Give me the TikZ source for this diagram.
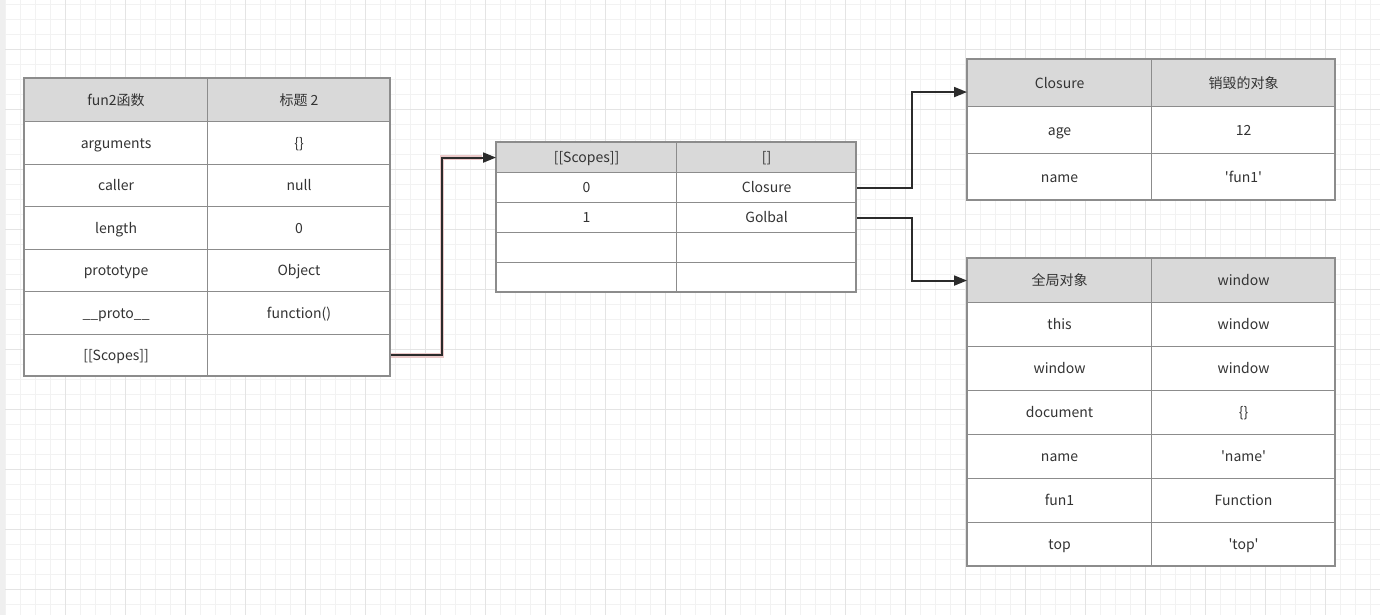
\documentclass[tikz,border=0pt]{standalone}
\usepackage{fontspec}
\setmainfont{Noto Sans CJK SC}
\usetikzlibrary{arrows.meta}
\definecolor{gridminor}{HTML}{F2F2F2}
\definecolor{gridmajor}{HTML}{E4E4E4}
\definecolor{stripgray}{HTML}{EFEFEF}
\definecolor{bordergray}{HTML}{8C8C8C}
\definecolor{headfill}{HTML}{D9D9D9}
\definecolor{txt}{HTML}{333333}
\definecolor{linkcol}{HTML}{2B2B2B}
\definecolor{halocol}{HTML}{EBC9C9}
\begin{document}
\begin{tikzpicture}[x=1pt,y=-1pt,
  cell/.style={draw=bordergray, line width=1.1pt, anchor=north west, inner sep=0pt,
    text=txt, font=\fontsize{14}{16}\selectfont, fill=white,
    text height=12pt, text depth=1.5pt},
  hcell/.style={cell, fill=headfill},
  frame/.style={draw=bordergray, line width=2pt},
  link/.style={draw=linkcol, line width=2pt, -{Triangle[length=13pt,width=10pt]}},
  halo/.style={draw=halocol, line width=4.5pt, line cap=butt}]
\useasboundingbox (0,0) rectangle (1380,615);
\fill[white] (0,0) rectangle (1380,615);
% grid
\foreach \x in {5.5,20.5,...,1380} \draw[gridminor, line width=1pt] (\x,0) -- (\x,615);
\foreach \y in {4.5,19.5,...,615} \draw[gridminor, line width=1pt] (0,\y) -- (1380,\y);
\foreach \x in {65.5,125.5,...,1380} \draw[gridmajor, line width=1pt] (\x,0) -- (\x,615);
\foreach \y in {49.5,109.5,...,615} \draw[gridmajor, line width=1pt] (0,\y) -- (1380,\y);
\fill[stripgray] (0,0) rectangle (5,615);

% left table
\node[hcell, minimum width=183, minimum height=43] (L01) at (24,78) {fun2函数};
\node[hcell, minimum width=183, minimum height=43] (L02) at (207,78) {标题 2};
\foreach \k/\v [count=\i] in {arguments/\{\}, caller/null, length/0, prototype/Object, \_\_proto\_\_/function(), {[[Scopes]]}/{}} {
  \node[cell, minimum width=183, minimum height=42.5] (L\i1) at ({24},{121+42.5*(\i-1)}) {\k};
  \node[cell, minimum width=183, minimum height=42.5] (L\i2) at ({207},{121+42.5*(\i-1)}) {\v};
}
\draw[frame] (24,78) rectangle (390,376);

% middle table
\node[hcell, minimum width=180, minimum height=30] (M01) at (496,142) {[[Scopes]]};
\node[hcell, minimum width=180, minimum height=30] (M02) at (676,142) {[]};
\foreach \k/\v [count=\i] in {0/Closure, 1/Golbal, {}/{}, {}/{}} {
  \node[cell, minimum width=180, minimum height=30] (M\i1) at ({496},{142+30*\i}) {\k};
  \node[cell, minimum width=180, minimum height=30] (M\i2) at ({676},{142+30*\i}) {\v};
}
\draw[frame] (496,142) rectangle (856,292);

% top right table
\node[hcell, minimum width=184, minimum height=47] (T01) at (967,59) {Closure};
\node[hcell, minimum width=184, minimum height=47] (T02) at (1151,59) {销毁的对象};
\foreach \k/\v [count=\i] in {age/12, name/\textquotesingle fun1\textquotesingle} {
  \node[cell, minimum width=184, minimum height=47] (T\i1) at ({967},{59+47*\i}) {\k};
  \node[cell, minimum width=184, minimum height=47] (T\i2) at ({1151},{59+47*\i}) {\v};
}
\draw[frame] (967,59) rectangle (1335,200);

% bottom right table
\node[hcell, minimum width=184, minimum height=44] (B01) at (967,258) {全局对象};
\node[hcell, minimum width=184, minimum height=44] (B02) at (1151,258) {window};
\foreach \k/\v [count=\i] in {this/window, window/window, document/\{\}, name/\textquotesingle name\textquotesingle, fun1/Function, top/\textquotesingle top\textquotesingle} {
  \node[cell, minimum width=184, minimum height=44] (B\i1) at ({967},{258+44*\i}) {\k};
  \node[cell, minimum width=184, minimum height=44] (B\i2) at ({1151},{258+44*\i}) {\v};
}
\draw[frame] (967,258) rectangle (1335,566);

% connectors
\coordinate (bendA) at ([xshift=51pt]L62.east);
\draw[halo] (L62.east) -- (bendA) |- ([xshift=-14pt]M01.west);
\draw[link] (L62.east) -- (bendA) |- (M01.west);
\coordinate (bendB) at ([xshift=55pt]M12.east);
\draw[link] (M12.east) -- (bendB) |- ([yshift=-9pt]T01.west);
\coordinate (bendC) at ([xshift=55pt]M22.east);
\draw[link] (M22.east) -- (bendC) |- (B01.west);
\end{tikzpicture}
\end{document}
